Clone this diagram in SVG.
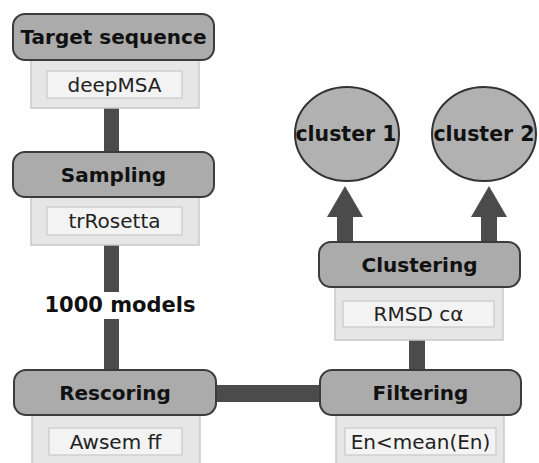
<svg xmlns="http://www.w3.org/2000/svg" width="539" height="463" viewBox="0 0 539 463">
<style>
.hdr{fill:#ababab;stroke:#3c3c3c;stroke-width:2}
.pnl{fill:#e6e6e6;stroke:#c9c9c9;stroke-width:1.5}
.box{fill:#f3f3f3;stroke:#cfcfcf;stroke-width:1.5}
.con{fill:#4b4b4b}
.bt{font-family:"DejaVu Sans",Verdana,sans-serif;font-weight:bold;font-size:20px;fill:#111;text-anchor:middle}
.rt{font-family:"DejaVu Sans",Verdana,sans-serif;font-size:20px;fill:#222;text-anchor:middle}
.ell{fill:#b1b1b1;stroke:#333;stroke-width:2}
</style>
<rect width="539" height="463" fill="#fff"/>
<g id="connectors">
<rect class="con" x="104" y="107" width="15" height="46"/>
<rect class="con" x="104" y="244" width="15" height="48"/>
<rect class="con" x="104" y="319" width="15" height="52"/>
<rect class="con" x="215" y="385" width="106" height="17"/>
<rect class="con" x="409" y="339" width="16" height="32"/>
<rect class="con" x="337" y="216" width="16" height="27"/>
<polygon class="con" points="327,217 363,217 345,186"/>
<rect class="con" x="481" y="216" width="16" height="27"/>
<polygon class="con" points="471,217 507,217 489,186"/>
<rect x="38" y="292" width="162" height="27" fill="#fff"/>
<text class="bt" x="120" y="312" style="font-size:21px">1000 models</text>
</g>
<g id="target">
<rect class="pnl" x="31" y="59" width="168" height="49"/>
<rect class="box" x="47" y="71" width="135" height="27"/>
<text class="rt" x="114.5" y="92">deepMSA</text>
<rect class="hdr" x="13" y="14" width="201" height="46" rx="12"/>
<text class="bt" x="113.5" y="44">Target sequence</text>
</g>
<g id="sampling">
<rect class="pnl" x="31" y="196" width="168" height="49"/>
<rect class="box" x="47" y="207" width="135" height="28"/>
<text class="rt" x="114.5" y="228">trRosetta</text>
<rect class="hdr" x="13" y="152" width="201" height="45" rx="12"/>
<text class="bt" x="113.5" y="182">Sampling</text>
</g>
<g id="rescoring">
<rect class="pnl" x="32" y="414" width="168" height="52"/>
<rect class="box" x="49" y="428" width="133" height="27"/>
<text class="rt" x="115.5" y="449">Awsem ff</text>
<rect class="hdr" x="14" y="370" width="202" height="45" rx="12"/>
<text class="bt" x="115" y="400">Rescoring</text>
</g>
<g id="clustering">
<rect class="pnl" x="335" y="286" width="168" height="54"/>
<rect class="box" x="343" y="301" width="151" height="26"/>
<text class="rt" x="418.5" y="321">RMSD cα</text>
<rect class="hdr" x="319" y="242" width="201" height="45" rx="12"/>
<text class="bt" x="419.5" y="272">Clustering</text>
</g>
<g id="filtering">
<rect class="pnl" x="336" y="414" width="168" height="52"/>
<rect class="box" x="345" y="428" width="151" height="27"/>
<text class="rt" x="420.5" y="449">En&lt;mean(En)</text>
<rect class="hdr" x="320" y="370" width="201" height="45" rx="12"/>
<text class="bt" x="420.5" y="400">Filtering</text>
</g>
<g id="cluster1">
<ellipse class="ell" cx="347" cy="134" rx="52" ry="47"/>
<text class="bt" x="346" y="141" style="font-size:20.5px">cluster 1</text>
</g>
<g id="cluster2">
<ellipse class="ell" cx="484" cy="134" rx="52" ry="47"/>
<text class="bt" x="484" y="141" style="font-size:20.5px">cluster 2</text>
</g>
</svg>
